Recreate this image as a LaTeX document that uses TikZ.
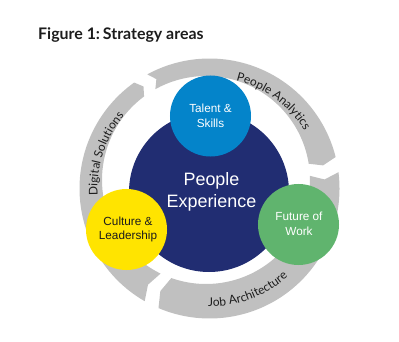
\documentclass[tikz,border=0pt]{standalone}
\usepackage{fontspec}
\newfontfamily\arialf{Liberation Sans}
\newfontfamily\latof{Lato}
\usetikzlibrary{calc,decorations.text}
\definecolor{navy}{RGB}{33,45,114}
\definecolor{tblue}{RGB}{4,132,202}
\definecolor{cyellow}{RGB}{255,228,0}
\definecolor{fgreen}{RGB}{96,180,110}
\definecolor{bandgray}{RGB}{192,192,192}
\definecolor{inkgray}{RGB}{28,28,28}
\newcommand\arcfont{\latof\fontsize{12}{14}\selectfont}
\newcommand\calcray[1]{%
  \pgfmathsetmacro\myDu{3.5*cos(#1)-8.5*sin(#1)}%
  \pgfmathsetmacro\rayR{-\myDu+sqrt(\myDu*\myDu+10731.5)}%
  \pgfmathsetmacro\rayPhi{atan2(-8.5+\rayR*sin(#1),3.5+\rayR*cos(#1))}%
}
\newcommand\ringarrow[2]{%
  \calcray{#1}\let\ArA\rayR\let\ApA\rayPhi
  \calcray{#2}\let\ArB\rayR\let\ApB\rayPhi
  \pgfmathsetmacro\AnA{#1-2.7}\calcray{\AnA}\pgfmathsetmacro\AmN{(130+\rayR)/2}%
  \pgfmathsetmacro\AtB{#2-2.5}\calcray{\AtB}\pgfmathsetmacro\AmT{(130+\rayR)/2}%
  \pgfmathsetmacro\ApEnd{\ApB+mod(\ApA-\ApB+720,360)}%
  \fill[bandfill] ($(Co)+(#1:130bp)$) arc[start angle=#1,end angle=#2,radius=130bp]
    -- ($(Co)+(\AtB:\AmT bp)$)
    -- ($(Ci)+(\ApB:104bp)$) arc[start angle=\ApB,end angle=\ApEnd,radius=104bp]
    -- ($(Co)+(\AnA:\AmN bp)$) -- cycle;
}
\begin{document}
\begin{tikzpicture}[x=1bp,y=1bp,
  bandfill/.style={fill=bandgray},
  disc/.style={circle,inner sep=0pt,minimum size=81bp},
  smalltext/.style={align=center,inner sep=0pt,font=\arialf\fontsize{11.8}{14.5}\selectfont},
  arclabel/.style={decorate,decoration={text along path,text={|\arcfont|#1},text align=center,text color=inkgray}}]
\useasboundingbox (0,0) rectangle (399,342);
\coordinate (Co) at (209.5,153.5);
\coordinate (Ci) at (206,162);
% ring arrows (clockwise)
\ringarrow{118.6}{14}
\ringarrow{7.2}{-113.1}
\ringarrow{240.1}{125.4}
% circles
\node[circle,inner sep=0pt,minimum size=160bp,fill=navy] (px) at (209,150) {};
\node[disc,fill=tblue] (ts) at (210.5,226) {};
\node[disc,fill=cyellow] (cl) at (126.5,112.5) {};
\node[disc,fill=fgreen] (fw) at (298.5,117.5) {};
% texts
\node[align=center,inner sep=0pt,text=white,font=\arialf\fontsize{18}{21.5}\selectfont] (pxt) at ($(px)+(2.5,0)$) {People\\Experience};
\node[smalltext,text=white] (tst) at ($(ts)+(0,0.3)$) {Talent \&\\Skills};
\node[smalltext,text=inkgray] (clt) at ($(cl)+(1.5,0.3)$) {Culture \&\\Leadership};
\node[smalltext,text=white] (fwt) at ($(fw)+(0.5,0.8)$) {Future of\\Work};
% arc labels
\path[arclabel={People Analytics}] ($(Co)+(98.7:111bp)$) arc[start angle=98.7,end angle=8.7,radius=111bp];
\path[arclabel={Digital Solutions}] ($(Co)+(206.5:112bp)$) arc[start angle=206.5,end angle=116.5,radius=112bp];
\path[arclabel={Job Architecture}] ($(Co)+(245.5:118bp)$) arc[start angle=245.5,end angle=335.5,radius=118bp];
% title
\node[anchor=base west,inner sep=0pt,text=inkgray,font=\latof\bfseries\fontsize{16}{19}\selectfont] (title) at (38,303) {Figure 1:\kern-1pt\ Strategy areas};
\end{tikzpicture}
\end{document}
